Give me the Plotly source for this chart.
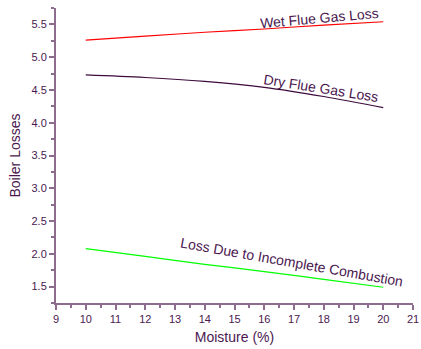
import plotly.graph_objects as go

moisture = [10, 12, 14, 16, 18, 20]
wet_flue_gas_loss = [5.26, 5.32, 5.38, 5.43, 5.49, 5.54]
dry_flue_gas_loss = [4.73, 4.69, 4.63, 4.54, 4.40, 4.23]
incomplete_combustion_loss = [2.08, 1.96, 1.84, 1.73, 1.61, 1.49]

txt = "#4B1850"
axc = "#8E6C8E"
font = "Liberation Sans, Arial, sans-serif"

fig = go.Figure()
fig.add_trace(go.Scatter(x=moisture, y=wet_flue_gas_loss, mode="lines",
                         line=dict(color="#FF0000", width=1.2), line_shape="spline"))
fig.add_trace(go.Scatter(x=moisture, y=dry_flue_gas_loss, mode="lines",
                         line=dict(color="#3C0A3C", width=1.2), line_shape="spline"))
fig.add_trace(go.Scatter(x=moisture, y=incomplete_combustion_loss, mode="lines",
                         line=dict(color="#00FF00", width=1.2), line_shape="spline"))

fig.add_annotation(x=17.87, y=5.60, text="Wet Flue Gas Loss", showarrow=False, textangle=-5,
                   font=dict(family=font, size=14, color=txt))
fig.add_annotation(x=17.9, y=4.53, text="Dry Flue Gas Loss", showarrow=False, textangle=9,
                   font=dict(family=font, size=14, color=txt))
fig.add_annotation(x=16.92, y=1.88, text="Loss Due to Incomplete Combustion", showarrow=False, textangle=10,
                   font=dict(family=font, size=14, color=txt))

fig.update_layout(
    width=421, height=349, showlegend=False,
    plot_bgcolor="white", paper_bgcolor="white",
    margin=dict(l=56, r=8, t=8, b=46, autoexpand=False),
    font=dict(family=font, color=txt, size=11),
)
fig.update_xaxes(range=[9, 21], tickvals=list(range(9, 22)), showgrid=False, zeroline=False,
                 automargin=False,
                 showline=True, linecolor=axc, linewidth=2, ticks="outside", tickcolor=axc,
                 ticklen=5, tickwidth=1.5,
                 minor=dict(dtick=0.5, ticks="outside", ticklen=3, tickcolor=axc, tickwidth=1.5),
                 title=dict(text="Moisture (%)", font=dict(size=14, color=txt), standoff=8),
                 tickfont=dict(size=11, color=txt))
fig.update_yaxes(range=[1.25, 5.75], tickvals=[1.5, 2.0, 2.5, 3.0, 3.5, 4.0, 4.5, 5.0, 5.5],
                 ticktext=["1.5", "2.0", "2.5", "3.0", "3.5", "4.0", "4.5", "5.0", "5.5"],
                 showgrid=False, zeroline=False, automargin=False,
                 showline=True, linecolor=axc, linewidth=2, ticks="outside", tickcolor=axc,
                 ticklen=5, tickwidth=1.5,
                 minor=dict(tick0=1.25, dtick=0.25, ticks="outside", ticklen=3, tickcolor=axc, tickwidth=1.5),
                 title=dict(text="Boiler Losses", font=dict(size=14, color=txt), standoff=8),
                 tickfont=dict(size=11, color=txt))

fig.write_html("out.html", config={"displayModeBar": False},
               post_script="document.body.style.margin='0';document.body.style.overflow='hidden';")
